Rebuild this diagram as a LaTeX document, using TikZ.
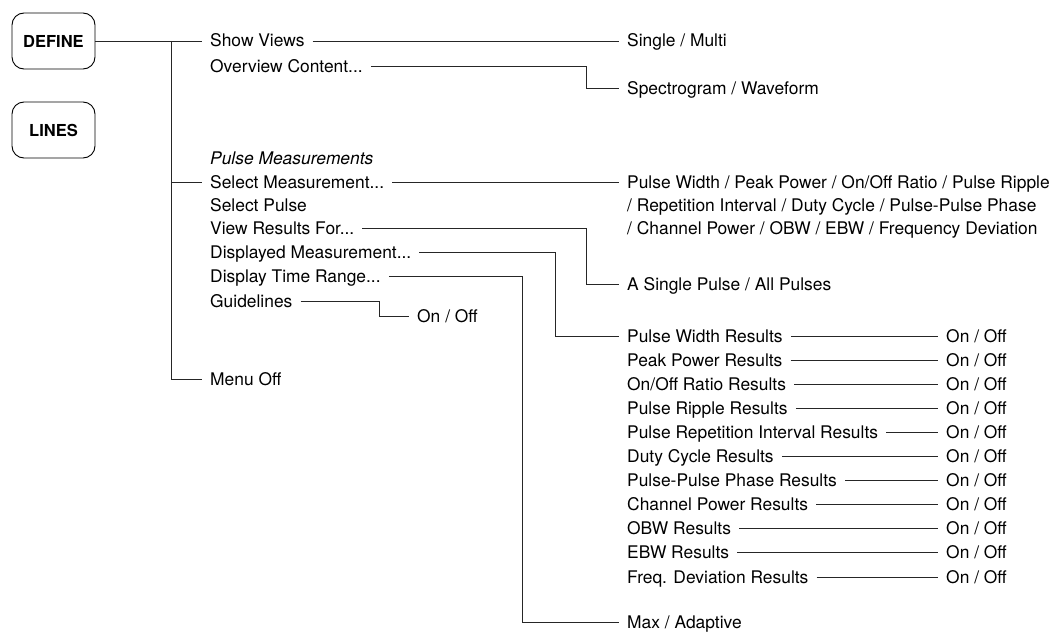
\documentclass[tikz,border=0pt]{standalone}
\usepackage{fontspec}
\setmainfont{TeX Gyre Heros}
\usepackage{tikz}
\tikzset{
  keybox/.style={draw,rounded corners=12pt,minimum width=83pt,minimum height=56pt,
    font=\fontsize{16.5}{18}\selectfont\bfseries,line width=0.9pt},
  item/.style={anchor=west,inner xsep=8pt,inner ysep=0pt,text height=12pt,text depth=0pt},
  link/.style={line width=0.95pt,black!85},
}

\begin{document}
\begin{tikzpicture}[x=1pt,y=-1pt,font=\fontsize{17.4}{21}\selectfont]
        \useasboundingbox (0,0) rectangle (1059,634);
        \def\colA{202}\def\colB{619}\def\colC{938}
        % front panel keys
        \node[keybox] (define) at (53.5,41) {DEFINE};
        \node[keybox] (lines) at (53.5,130) {LINES};
        % first menu level
        \node[item] (showviews) at (\colA,41) {Show Views};
        \node[item] (overview) at (\colA,66) {Overview Content...};
        \node[item] (pulsemeas) at (\colA,158) {\itshape Pulse Measurements};
        \node[item] (selmeas) at (\colA,182) {Select Measurement...};
        \node[item] (selpulse) at (\colA,205) {Select Pulse};
        \node[item] (viewres) at (\colA,228) {View Results For...};
        \node[item] (dispmeas) at (\colA,252) {Displayed Measurement...};
        \node[item] (disptime) at (\colA,276) {Display Time Range...};
        \node[item] (guide) at (\colA,301) {Guidelines};
        \node[item] (menuoff) at (\colA,379) {Menu Off};
        % second menu level
        \node[item] (single) at (\colB,41) {Single / Multi};
        \node[item] (spectro) at (\colB,88) {Spectrogram / Waveform};
        \node[item] (pwA) at (\colB,182) {Pulse Width / Peak Power / On/Off Ratio / Pulse Ripple};
        \node[item] (pwB) at (\colB,205) {/ Repetition Interval / Duty Cycle / Pulse-Pulse Phase};
        \node[item] (pwC) at (\colB,228) {/ Channel Power / OBW / EBW / Frequency Deviation};
        \node[item] (asingle) at (\colB,284) {A Single Pulse / All Pulses};
        \node[item] (maxad) at (\colB,622) {Max / Adaptive};
        \node[item] (guideonoff) at (409,316) {On / Off};
        % result toggles
        \foreach \txt [count=\i] in {Pulse Width Results,Peak Power Results,On/Off Ratio Results,
            Pulse Ripple Results,Pulse Repetition Interval Results,Duty Cycle Results,
            Pulse-Pulse Phase Results,Channel Power Results,OBW Results,EBW Results,
            Freq. Deviation Results}{
          \node[item] (res\i) at (\colB,{336+24.1*(\i-1)}) {\txt};
          \node[item] (onoff\i) at (\colC,{336+24.1*(\i-1)}) {On / Off};
          \draw[link] (res\i.east) -- (onoff\i.west);
        }
        % bend columns
        \coordinate (trunk) at (171,0);
        \coordinate (bendA) at (586,0);
        \coordinate (bendB) at (555,0);
        \coordinate (bendC) at (522,0);
        \coordinate (bendD) at (379,0);
        % connectors
        \draw[link] (define.east) -- (showviews.west);
        \draw[link] (define.east -| trunk) |- (menuoff.west);
        \draw[link] (selmeas.west -| trunk) -- (selmeas.west);
        \draw[link] (showviews.east) -- (single.west);
        \draw[link] (overview.east) -- (overview.east -| bendA) |- (spectro.west);
        \draw[link] (selmeas.east) -- (pwA.west);
        \draw[link] (viewres.east) -- (viewres.east -| bendA) |- (asingle.west);
        \draw[link] (dispmeas.east) -- (dispmeas.east -| bendB) |- (res1.west);
        \draw[link] (disptime.east) -- (disptime.east -| bendC) |- (maxad.west);
        \draw[link] (guide.east) -- (guide.east -| bendD) |- (guideonoff.west);
      \end{tikzpicture}
\end{document}
